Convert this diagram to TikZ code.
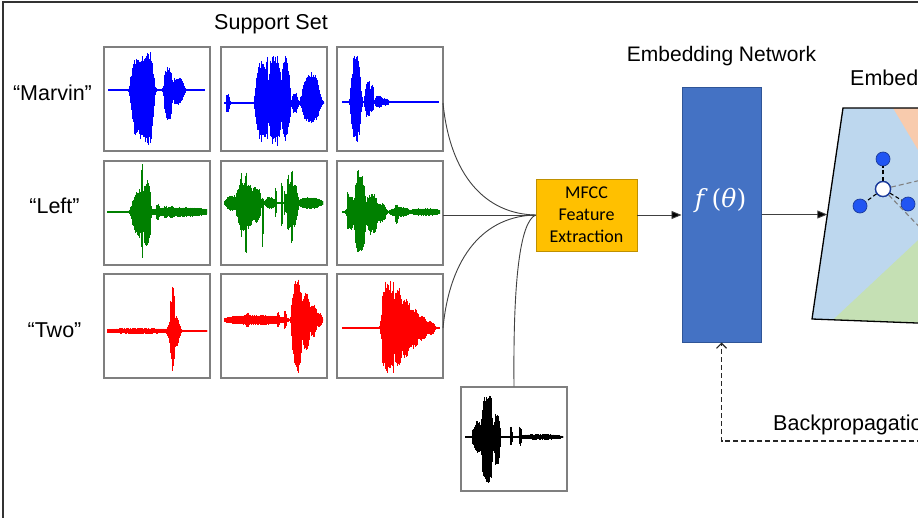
\documentclass[tikz,border=0pt]{standalone}
\usepackage{fontspec}
\setmainfont{Liberation Sans}
\newfontfamily\calibri{Carlito}
\newfontfamily\dvserif{DejaVu Serif}
\usetikzlibrary{arrows.meta,calc}
\definecolor{boxgray}{HTML}{7F7F7F}
\definecolor{lgray}{HTML}{404040}
\definecolor{mfccf}{HTML}{FFC000}
\definecolor{mfccb}{HTML}{BF9000}
\definecolor{netf}{HTML}{4472C4}
\definecolor{netb}{HTML}{2F5597}
\definecolor{espace}{HTML}{BDD7EE}
\definecolor{eor}{HTML}{F8CBAD}
\definecolor{egr}{HTML}{C5E0B4}
\definecolor{dotb}{HTML}{2155F2}
\definecolor{dotbd}{HTML}{1A3A9A}
\definecolor{wblue}{HTML}{0000FF}
\definecolor{wgreen}{HTML}{008000}
\definecolor{wred}{HTML}{FF0000}
\definecolor{wblack}{HTML}{000000}
\definecolor{frame}{HTML}{333333}
% one bump of a waveform: colour, baseline, centre, left width, right width, up, down
\newcommand\wbump[7]{%
  \pgfmathsetmacro\wxa{#3-2*#4}%
  \pgfmathsetmacro\wxs{#3-2*#4+0.7}%
  \pgfmathsetmacro\wxb{#3+2*#5}%
  \foreach \x in {\wxa,\wxs,...,\wxb}{%
    \pgfmathsetmacro\ww{(\x<#3)?#4:#5}%
    \pgfmathsetmacro\tt{(\x-#3)/\ww}%
    \pgfmathsetmacro\gg{exp(-\tt*\tt*\tt*\tt)}%
    \pgfmathsetmacro\uu{#6*\gg*(0.78+0.22*rnd)+0.8}%
    \pgfmathsetmacro\dd{#7*\gg*(0.78+0.22*rnd)+0.8}%
    \draw[#1,line width=1pt] (\x,#2-\uu) -- (\x,#2+\dd);
  }}
% waveform: colour, baseline, x start, x end, list of c/wl/wr/u/d
\newcommand\wave[5]{%
  \begin{scope}
  \clip (#3-1,#2-80) rectangle (#4+1,#2+80);
  \draw[#1,line width=1.8pt] (#3,#2) -- (#4,#2);
  \foreach \c/\l/\r/\u/\d in {#5}{\wbump{#1}{#2}{\c}{\l}{\r}{\u}{\d}}%
  \end{scope}
}
\newcommand\ftheta{{\dvserif\textit{f}\kern4pt(\textit{θ})}}
\tikzset{
  wbox/.style={draw=boxgray, line width=1.1pt, minimum width=106pt, minimum height=104pt, inner sep=0pt, fill=white},
  lab/.style={font=\fontsize{21.5}{26}\selectfont, inner sep=0pt},
  conn/.style={draw=lgray, line width=0.9pt},
  arr/.style={conn, -{Triangle[length=10pt,width=8pt,fill=black]}},
  bdot/.style={circle, fill=dotb, draw=dotbd, line width=0.7pt, minimum size=14pt, inner sep=0pt},
  wdot/.style={circle, fill=white, draw=dotbd, line width=1.3pt, minimum size=15pt, inner sep=0pt},
  bdash/.style={draw=black, line width=1.1pt, dash pattern=on 4pt off 2.5pt},
  gdash/.style={draw=gray, line width=1.1pt, dash pattern=on 5pt off 3pt},
}
\begin{document}
\begin{tikzpicture}[x=1pt,y=-1pt]
\useasboundingbox (0,0) rectangle (918,517);
\clip (0,0) rectangle (918,517);
\fill[white] (0,0) rectangle (918,517);
% frame
\draw[frame, line width=2pt] (2.8,530) -- (2.8,1.8) -- (930,1.8);

% titles
\node[lab, anchor=base] (tss) at (271,29) {Support Set};
\node[lab, anchor=base] (lm) at (52.5,100) {“Marvin”};
\node[lab, anchor=base] (ll) at (54.5,213) {“Left”};
\node[lab, anchor=base] (lt) at (54.5,337) {“Two”};
\node[font=\fontsize{21}{25}\selectfont, inner sep=0pt, anchor=base] (ten) at (721.5,61) {Embedding Network};
\node[lab, anchor=base west] (tes) at (850,85) {Embedding Space};
\node[lab, anchor=base west] (tbp) at (773,430) {Backpropagation};

% support boxes
\node[wbox] (b11) at (157,99) {};
\node[wbox] (b12) at (274,99) {};
\node[wbox] (b13) at (390,99) {};
\node[wbox] (b21) at (157,213) {};
\node[wbox] (b22) at (274,213) {};
\node[wbox] (b23) at (390,213) {};
\node[wbox] (b31) at (157,326) {};
\node[wbox] (b32) at (274,326) {};
\node[wbox] (b33) at (390,326) {};
\node[wbox] (q) at (514,439) {};

\pgfmathsetseed{7}
% Marvin
\wave{wblue}{90}{108}{205}{132/2/2/15/15, 137/6/6/31/45, 143/5/5/34/52, 148/6/6/38/55, 150/1/1/39/50, 168/4/5/22/30, 177/5/7/12/14}
\wave{wblue}{103}{225}{323}{228/2/2/9/9, 258/3/3/28/22, 262/6/6/42/38, 275/7/7/48/42, 286/5/4/45/35, 267/1/1/51/43, 277/1/1/51/43, 285/1/1/51/40, 295/3/3/10/10, 311/9/9/30/19}
\wave{wblue}{102}{342}{439}{356/5/5/46/40, 357/1/1/50/43, 368/3/3/20/15, 372/1.5/2/17/10, 378/3/5/6/5, 385/3/4/3/3}
% Left
\wave{wgreen}{212}{107}{206}{141/9/9/22/25, 147/4/4/30/35, 142/1/1/48/47, 147/1/1/32/35, 158/2/2/8/8, 166/2/2/6/6, 172/2/2/6/6, 180/30/30/4/4}
\wave{wgreen}{203}{225}{322}{232/6/6/7/7, 245/9/9/20/28, 256/5/5/16/20, 246/1/1/38/56, 241/1/1/30/35, 263/0.8/0.8/5/45, 270/5/5/5/5, 276/0.8/0.8/15/14, 282/0.8/0.8/22/24, 285/0.8/0.8/12/12, 292/6/6/20/25, 292/1.2/1.2/35/40, 288/1/1/28/30, 310/12/12/5/5}
\wave{wgreen}{212}{342}{439}{351/4/4/15/18, 360/6/6/35/40, 372/6/6/18/22, 381/5/5/8/10, 358/1/1/47/45, 362/1/1/40/42, 348/0.8/0.8/24/20, 397/2/2/7/11, 400/10/10/4/4, 425/15/15/3/3}
% Two
\wave{wred}{331}{108}{206}{140/35/35/2/2, 174/6/6/14/16, 173/1.5/1.5/52/42, 171/1/1/35/30}
\wave{wred}{320}{225}{322}{255/30/30/4/4, 248/2/2/7/7, 263/2/2/5/5, 278/1.5/1.5/7/7, 285/1.5/1.5/9/9, 297/5/5/41/53, 306/4/4/28/30, 313/4/4/16/16, 319/3/3/7/7}
\wave{wred}{328}{342}{439}{388/6/6/47/45, 398/5/5/40/38, 406/5/5/30/30, 414/5/5/20/20, 422/5/5/12/12, 430/5/5/6/6, 393/1/1/49/45, 383/1/1/45/40}
% query
\wave{wblack}{437}{465}{562}{474/2/2/8/8, 478/4/4/16/16, 487/6/6/42/45, 491/1.2/1.2/45/50, 497/3/3/25/30, 511/1.2/1.2/10/8, 520/1.2/1.5/10/8, 540/20/20/2/2}

% MFCC and network
\node[draw=mfccb, fill=mfccf, line width=0.8pt, minimum width=101pt, minimum height=72pt, inner sep=0pt, align=center, font=\calibri\fontsize{18}{22}\selectfont] (mfcc) at (586.5,215) {MFCC\\Feature\\Extraction};
\node[draw=netb, fill=netf, line width=1pt, minimum width=79pt, minimum height=255pt, inner sep=0pt] (net) at (721.5,214.5) {};
\node[text=white, font=\fontsize{25}{26}\selectfont, inner sep=0pt] (fth) at (720.5,200) {\ftheta};

% connector end points
\coordinate (s1) at (443,103);
\coordinate (s2) at (443,215);
\coordinate (s3) at (443,328);
\coordinate (mi) at (mfcc.west);
\draw[conn] (s1) .. controls (450,175) and (485,214) .. (mi);
\draw[conn] (s2) -- (mi);
\draw[conn] (s3) .. controls (450,255) and (485,216) .. (mi);
\draw[conn] (q.north) .. controls (513,280) and (520,222) .. (mi);
\draw[arr] (mfcc.east) -- (net.west |- mfcc.east);

% embedding space
\fill[espace] (843,108) -- (930,108) -- (930,323.5) -- (812,319) -- cycle;
\fill[eor] (893,108) -- (930,108) -- (930,170) -- cycle;
\fill[egr] (833,319.8) -- (930,229) -- (930,323.5) -- cycle;
\draw[black, line width=1.3pt, line join=miter] (930,108) -- (843,108) -- (812,319) -- (930,323.5);
\coordinate (eleft) at (827.3,214.5);
\draw[arr] (net.east) -- (eleft);

\node[wdot] (cen) at (883,189) {};
\node[bdot] (d1) at (883,159) {};
\node[bdot] (d2) at (860,206) {};
\node[bdot] (d3) at (908,204) {};
\coordinate (g1) at (930,178);
\coordinate (g2) at (930,238);
\draw[gdash] (cen) -- (g1);
\draw[gdash] (cen) -- (g2);
\draw[bdash] (cen) -- (d1);
\draw[bdash] (cen) -- (d2);
\draw[bdash] (cen) -- (d3);
\node[wdot] at (cen) {};

% backpropagation
\coordinate (bp) at (930,441);
\draw[draw=black!85, line width=1.1pt, dash pattern=on 5pt off 3pt, -{Straight Barb[length=5pt,width=10pt]}] (bp) -| (net.south);
\end{tikzpicture}
\end{document}
